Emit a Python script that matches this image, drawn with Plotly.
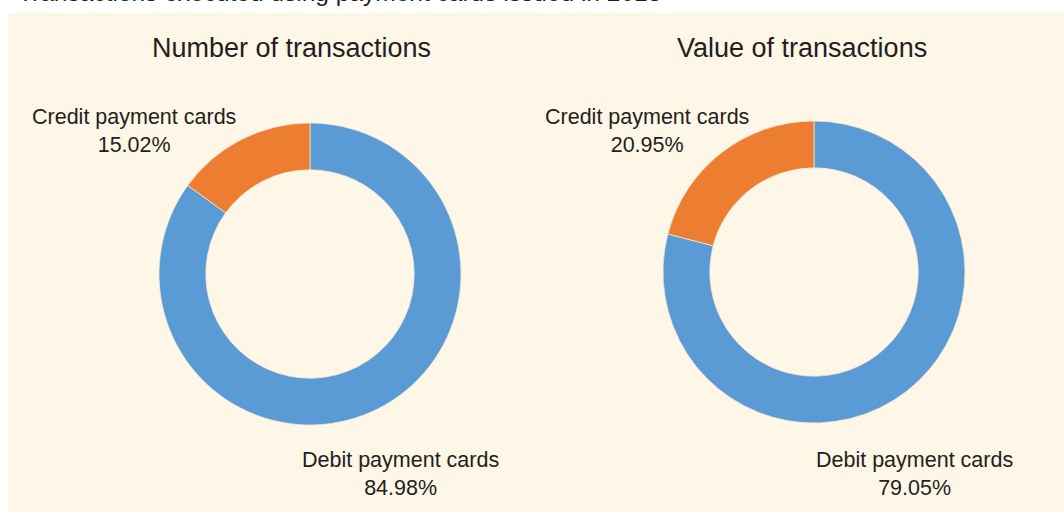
import plotly.graph_objs as go

# data
card_types = ["Credit payment cards", "Debit payment cards"]
number_share = [15.02, 84.98]
value_share = [20.95, 79.05]
panel_titles = ["Number of transactions", "Value of transactions"]
top_title = "Transactions executed using payment cards issued in 2018"

colors = ["#ED7D31", "#5B9BD5"]
bg = "#FEF6E6"
W, H = 1064, 515


def px_x(v):
    return v / W


def px_y(v):
    # pixel from top -> paper y
    return 1 - v / H


fig = go.Figure()

# (center_x, center_y, radius) in pixels for each ring
rings = [(310, 274, 151), (814, 272, 151)]
for shares, (cx, cy, r) in zip([number_share, value_share], rings):
    # debit first, clockwise from 12 o'clock, so credit ends up left of the top
    fig.add_trace(go.Pie(
        labels = card_types[::-1], values = shares[::-1], hole = 0.69,
        sort = False, direction = "clockwise", rotation = 0,
        marker = dict(colors = colors[::-1], line = dict(color = "#f3e6d4", width = 0.8)),
        textinfo = "none", hoverinfo = "label+percent", showlegend = False,
        domain = dict(x = [px_x(cx - r), px_x(cx + r)], y = [px_y(cy + r), px_y(cy - r)])))

font = dict(family = "Liberation Sans, Arial, sans-serif", color = "#231f20")
annotations = [
    dict(text = top_title, x = px_x(16), y = 1, xanchor = "left", yanchor = "bottom",
         yshift = -8, font = dict(size = 24.5, **font)),
]
title_pos = [(291, 48), (802, 48)]
for t, (x, y) in zip(panel_titles, title_pos):
    annotations.append(dict(text = t, x = px_x(x), y = px_y(y), xanchor = "center",
                            yanchor = "middle", font = dict(size = 27, **font)))

# label positions: credit, debit for each chart
label_pos = [[(134, 131), (400, 474)], [(647, 131), (914, 474)]]
for shares, pos in zip([number_share, value_share], label_pos):
    for name, v, (x, y) in zip(card_types, shares, pos):
        annotations.append(dict(text = f"{name}<br>{v:.2f}%", x = px_x(x), y = px_y(y),
                                xanchor = "center", yanchor = "middle",
                                font = dict(size = 21.5, **font)))
for a in annotations:
    a.update(xref = "paper", yref = "paper", showarrow = False)

fig.update_layout(
    width = W, height = H,
    margin = dict(l = 0, r = 0, t = 0, b = 0),
    paper_bgcolor = "white",
    shapes = [dict(type = "rect", xref = "paper", yref = "paper", layer = "below",
                   x0 = px_x(8), x1 = 1, y0 = px_y(512), y1 = px_y(13),
                   fillcolor = bg, line = dict(width = 0))],
    annotations = annotations,
)
fig.write_html("out.html", config = {"displayModeBar": False},
               post_script = "document.body.style.margin = '0';")
